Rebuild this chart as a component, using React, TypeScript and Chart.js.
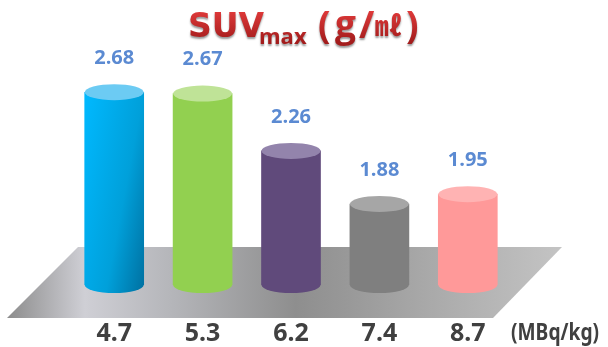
import React, { useEffect, useRef } from "react";
import { Chart, registerables } from "chart.js";

Chart.register(...registerables);

const doses = ["4.7", "5.3", "6.2", "7.4", "8.7"];
const suvMax = [2.68, 2.67, 2.26, 1.88, 1.95];
const unitLabel = "(MBq/kg)";
const topColors = ["#6CCBF3", "#BFE397", "#9384AC", "#A6A6A6", "#FFB3B3"];
const bodyStops = [
  ["#00B9FF", "#00A0DA", "#006F9F"],
  ["#92D050", "#92D050", "#92D050"],
  ["#604A7B", "#604A7B", "#604A7B"],
  ["#7F7F7F", "#7F7F7F", "#7F7F7F"],
  ["#FF9999", "#FF9999", "#FF9999"],
];

const BAR_WIDTH = 59;
const ELLIPSE_RY = 8;

// Slanted shading running across the cylinder from its upper-left corner.
function bodyGradient(ctx: CanvasRenderingContext2D, cx: number, top: number, i: number) {
  const x0 = cx - BAR_WIDTH / 2;
  const g = ctx.createLinearGradient(x0, top, x0 + 95, top + 18);
  g.addColorStop(0, bodyStops[i][0]);
  g.addColorStop(0.6, bodyStops[i][1]);
  g.addColorStop(1, bodyStops[i][2]);
  return g;
}

// Grey platform beneath the cylinders, offset from the plot area.
const floorPlugin = {
  id: "floor",
  beforeDatasetsDraw(chart: any) {
    const { ctx, chartArea: a } = chart;
    const top = a.bottom - 38;
    const bottom = a.bottom + 33;
    const g = ctx.createLinearGradient(7, 0, 562, 0);
    g.addColorStop(0, "#8C8C8C");
    g.addColorStop(0.14, "#CFCFD5");
    g.addColorStop(0.3, "#B4B5B9");
    g.addColorStop(0.52, "#8E8E8E");
    g.addColorStop(0.75, "#A8A8A8");
    g.addColorStop(1, "#C4C4C4");
    ctx.save();
    ctx.beginPath();
    ctx.moveTo(a.left + 8, top);
    ctx.lineTo(a.right + 50, top);
    ctx.lineTo(a.right - 19, bottom);
    ctx.lineTo(a.left - 63, bottom);
    ctx.closePath();
    ctx.fillStyle = g;
    ctx.fill();
    ctx.restore();
  },
};

// Rounds each bar into a cylinder and prints its value above it.
const cylinderPlugin = {
  id: "cylinders",
  afterDatasetsDraw(chart: any) {
    const { ctx, chartArea } = chart;
    chart.getDatasetMeta(0).data.forEach((bar: any, i: number) => {
      const rx = bar.width / 2;
      ctx.save();
      ctx.fillStyle = bodyGradient(ctx, bar.x, bar.y, i);
      ctx.beginPath();
      ctx.ellipse(bar.x, chartArea.bottom, rx, ELLIPSE_RY, 0, 0, Math.PI);
      ctx.fill();
      ctx.fillStyle = topColors[i];
      ctx.beginPath();
      ctx.ellipse(bar.x, bar.y, rx, ELLIPSE_RY, 0, 0, Math.PI * 2);
      ctx.fill();
      ctx.fillStyle = "#5B8AD2";
      ctx.font = 'bold 20px "Open Sans"';
      ctx.textAlign = "center";
      ctx.textBaseline = "middle";
      ctx.fillText(suvMax[i].toFixed(2), bar.x, bar.y - 34);
      ctx.restore();
    });
  },
};

// Chart heading with subscript and the dose unit beside the last tick.
const captionPlugin = {
  id: "captions",
  afterDraw(chart: any) {
    const { ctx } = chart;
    ctx.save();
    ctx.textBaseline = "alphabetic";
    ctx.textAlign = "left";
    const red = ctx.createLinearGradient(0, 10, 0, 42);
    red.addColorStop(0, "#E03A3A");
    red.addColorStop(1, "#A31C1C");
    ctx.fillStyle = red;
    ctx.shadowColor = "rgba(0,0,0,0.4)";
    ctx.shadowBlur = 2;
    ctx.shadowOffsetY = 2;
    const parts: [string, string, number, number][] = [
      ["SUV", 'bold 33px "DejaVu Sans"', 188, 37],
      ["max", 'bold 22px "Open Sans"', 259, 44],
      ["(", 'bold 37px "Open Sans"', 318, 38],
      ["g", 'bold 37px "Open Sans"', 335, 37],
      ["/", 'bold 37px "Open Sans"', 359, 38],
      ["㎖", 'bold 27px "Noto Sans CJK KR"', 375, 36],
      [")", 'bold 37px "Open Sans"', 406, 38],
    ];
    parts.forEach(([text, font, x, y]) => {
      ctx.font = font;
      ctx.fillText(text, x, y);
    });
    ctx.shadowColor = "transparent";
    ctx.fillStyle = "#404040";
    ctx.font = 'bold 24px "Noto Sans"';
    ctx.translate(511, 340);
    ctx.scale(0.8, 1);
    ctx.fillText(unitLabel, 0, 0);
    ctx.restore();
  },
};

export default function App() {
  const ref = useRef<HTMLCanvasElement>(null);
  useEffect(() => {
    const chart = new Chart(ref.current!, {
      type: "bar",
      data: {
        labels: doses,
        datasets: [
          {
            data: suvMax,
            barThickness: BAR_WIDTH,
            borderWidth: 0,
            backgroundColor: (c: any) => {
              const i = c.dataIndex;
              if (i === undefined) return bodyStops[0][0];
              const cx = c.chart.scales.x.getPixelForValue(i);
              const top = c.chart.scales.y.getPixelForValue(suvMax[i]);
              if (!Number.isFinite(cx) || !Number.isFinite(top)) return bodyStops[i][0];
              return bodyGradient(c.chart.ctx, cx, top, i);
            },
          },
        ],
      },
      options: {
        responsive: false,
        animation: false,
        layout: { padding: { left: 70, right: 96, top: 0, bottom: 0 } },
        plugins: { legend: { display: false }, tooltip: { enabled: false } },
        scales: {
          x: {
            afterFit: (scale: any) => {
              scale.height = 62;
            },
            grid: { display: false, drawTicks: false },
            border: { display: false },
            ticks: {
              padding: 34,
              color: "#404040",
              font: { family: '"Noto Sans"', weight: "bold", size: 25 },
              maxRotation: 0,
            },
          },
          y: { display: false, min: 1.3, max: 3.34 },
        },
      },
      plugins: [floorPlugin, cylinderPlugin, captionPlugin],
    } as any);
    return () => chart.destroy();
  }, []);
  return (
    <canvas
      ref={ref}
      width={608}
      height={347}
      style={{ position: "absolute", left: 0, top: 0, display: "block" }}
    />
  );
}
